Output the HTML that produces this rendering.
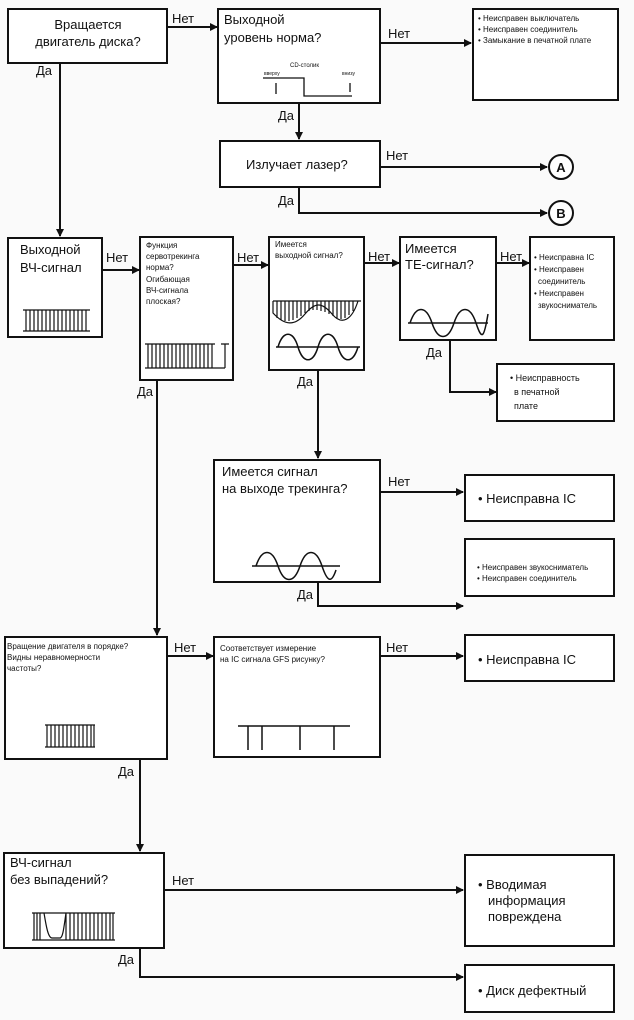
<!DOCTYPE html>
<html><head><meta charset="utf-8"><style>
html,body{margin:0;padding:0;background:#fafafa}
svg{display:block}
text{font-family:"Liberation Sans",sans-serif;fill:#111}
.b{fill:#fff;stroke:#111;stroke-width:2}
.l{fill:none;stroke:#111;stroke-width:2}
.t{stroke:#111;stroke-width:1.2;fill:none}
.s{font-size:8px}
.m{font-size:13px}
</style></head><body>
<svg width="634" height="1020" viewBox="0 0 634 1020" xmlns="http://www.w3.org/2000/svg">
<defs>
<marker id="a" markerWidth="8" markerHeight="8" refX="7" refY="4" orient="auto" markerUnits="userSpaceOnUse"><path d="M0,0 L8,4 L0,8 z" fill="#111"/></marker>
</defs>
<rect class="b" x="8" y="9" width="159" height="54"/>
<text class="m" x="88" y="29" text-anchor="middle">Вращается</text>
<text class="m" x="88" y="46" text-anchor="middle">двигатель диска?</text>

<rect class="b" x="218" y="9" width="162" height="94"/>
<text class="m" x="224" y="24">Выходной</text>
<text class="m" x="224" y="42">уровень норма?</text>
<text x="290" y="67" style="font-size:6px">CD-столик</text>
<text x="264" y="75" style="font-size:5px">вверху</text>
<text x="342" y="75" style="font-size:5px">внизу</text>
<path class="l" style="stroke-width:1.3" d="M263,78 H304 V96 H352"/>
<path class="l" style="stroke-width:1.3" d="M276,83 V94 M350,83 V92"/>

<rect class="b" x="473" y="9" width="145" height="91"/>
<text class="s" x="478" y="21">• Неисправен выключатель</text>
<text class="s" x="478" y="32">• Неисправен соединитель</text>
<text class="s" x="478" y="43">• Замыкание в печатной плате</text>

<rect class="b" x="220" y="141" width="160" height="46"/>
<text class="m" x="246" y="169">Излучает лазер?</text>
<circle class="b" cx="561" cy="167" r="12"/><text x="561" y="172" text-anchor="middle" font-size="13" font-weight="bold">A</text>
<circle class="b" cx="561" cy="213" r="12"/><text x="561" y="218" text-anchor="middle" font-size="13" font-weight="bold">B</text>

<rect class="b" x="8" y="238" width="94" height="99"/>
<text class="m" x="20" y="254">Выходной</text>
<text class="m" x="20" y="272">ВЧ-сигнал</text>
<g class="t"><path d="M23,310 H90 M23,331 H90 M26,310 V331 M30,310 V331 M34,310 V331 M38,310 V331 M42,310 V331 M46,310 V331 M50,310 V331 M54,310 V331 M58,310 V331 M62,310 V331 M66,310 V331 M70,310 V331 M74,310 V331 M78,310 V331 M82,310 V331 M86,310 V331"/></g>

<rect class="b" x="140" y="237" width="93" height="143"/>
<text class="s" x="146" y="248">Функция</text>
<text class="s" x="146" y="259">сервотрекинга</text>
<text class="s" x="146" y="270">норма?</text>
<text class="s" x="146" y="282">Огибающая</text>
<text class="s" x="146" y="293">ВЧ-сигнала</text>
<text class="s" x="146" y="304">плоская?</text>
<g class="t"><path d="M145,344 H215 M145,368 H225 M148,344 V368 M152,344 V368 M156,344 V368 M160,344 V368 M164,344 V368 M168,344 V368 M172,344 V368 M176,344 V368 M180,344 V368 M184,344 V368 M188,344 V368 M192,344 V368 M196,344 V368 M200,344 V368 M204,344 V368 M208,344 V368 M212,344 V368 M225,344 V368 M221,344 H229"/></g>

<rect class="b" x="269" y="237" width="95" height="133"/>
<text class="s" x="275" y="247">Имеется</text>
<text class="s" x="275" y="258">выходной сигнал?</text>
<path class="l" style="stroke-width:1.3" d="M273,301 H361"/>
<path class="l" style="stroke-width:1.2" d="M273,301 V313 C285,326 295,326 305,314 C315,302 322,302 332,314 C342,326 352,320 358,301"/>
<g class="t"><path d="M277,301 V318 M281,301 V320 M285,301 V321 M289,301 V321 M293,301 V320 M297,301 V318 M301,301 V316 M305,301 V313 M309,301 V311 M313,301 V310 M317,301 V310 M321,301 V311 M325,301 V312 M329,301 V314 M333,301 V316 M337,301 V318 M341,301 V319 M345,301 V318 M349,301 V315 M353,301 V311"/></g>
<path class="l" style="stroke-width:1.5" d="M276,347 H360 M278,347 C283,330 293,330 298,347 S313,364 318,347 S333,330 338,347 S353,364 358,347"/>

<rect class="b" x="400" y="237" width="96" height="103"/>
<text class="m" x="405" y="253">Имеется</text>
<text class="m" x="405" y="269">ТЕ-сигнал?</text>
<path class="l" style="stroke-width:1.5" d="M408,323 H488 M410,323 C416,305 426,305 432,323 S448,341 454,323 S470,305 476,323 S484,338 488,314"/>

<rect class="b" x="530" y="237" width="84" height="103"/>
<text class="s" x="534" y="260">• Неисправна IC</text>
<text class="s" x="534" y="272">• Неисправен</text>
<text class="s" x="538" y="284">соединитель</text>
<text class="s" x="534" y="296">• Неисправен</text>
<text class="s" x="538" y="308">звукосниматель</text>

<rect class="b" x="497" y="364" width="117" height="57"/>
<text x="510" y="381" style="font-size:9px">• Неисправность</text>
<text x="514" y="395" style="font-size:9px">в печатной</text>
<text x="514" y="409" style="font-size:9px">плате</text>

<rect class="b" x="214" y="460" width="166" height="122"/>
<text class="m" x="222" y="476">Имеется сигнал</text>
<text class="m" x="222" y="493">на выходе трекинга?</text>
<path class="l" style="stroke-width:1.5" d="M252,566 H340 M256,566 C262,548 272,548 278,566 S294,584 300,566 S316,548 322,566 S332,582 336,570"/>

<rect class="b" x="465" y="475" width="149" height="46"/>
<text x="478" y="503" font-size="13">• Неисправна IC</text>
<rect class="b" x="465" y="539" width="149" height="57"/>
<text class="s" x="477" y="570">• Неисправен звукосниматель</text>
<text class="s" x="477" y="581">• Неисправен соединитель</text>

<rect class="b" x="5" y="637" width="162" height="122"/>
<text class="s" x="7" y="649">Вращение двигателя в порядке?</text>
<text class="s" x="7" y="660">Видны неравномерности</text>
<text class="s" x="7" y="671">частоты?</text>
<g class="t"><path d="M45,725 H95 M45,747 H95 M47,725 V747 M51,725 V747 M55,725 V747 M59,725 V747 M63,725 V747 M67,725 V747 M71,725 V747 M75,725 V747 M79,725 V747 M83,725 V747 M87,725 V747 M91,725 V747 M94,725 V747"/></g>

<rect class="b" x="214" y="637" width="166" height="120"/>
<text class="s" x="220" y="651">Соответствует измерение</text>
<text class="s" x="220" y="662">на IC сигнала GFS рисунку?</text>
<path class="l" style="stroke-width:1.5" d="M238,726 H350 M248,726 V750 M262,726 V750 M300,726 V750 M334,726 V750"/>

<rect class="b" x="465" y="635" width="149" height="46"/>
<text x="478" y="664" font-size="13">• Неисправна IC</text>

<rect class="b" x="4" y="853" width="160" height="95"/>
<text class="m" x="10" y="867">ВЧ-сигнал</text>
<text class="m" x="10" y="884">без выпадений?</text>
<g class="t"><path d="M32,913 H115 M32,940 H115 M34,913 V940 M37,913 V940 M40,913 V940 M44,913 C46,925 48,938 52,938 H60 C63,938 64,926 66,913 M66,913 V940 M70,913 V940 M74,913 V940 M78,913 V940 M82,913 V940 M86,913 V940 M90,913 V940 M94,913 V940 M98,913 V940 M102,913 V940 M106,913 V940 M110,913 V940 M113,913 V940"/></g>

<rect class="b" x="465" y="855" width="149" height="91"/>
<text x="478" y="889" font-size="13">• Вводимая</text>
<text x="488" y="905" font-size="13">информация</text>
<text x="488" y="921" font-size="13">повреждена</text>
<rect class="b" x="465" y="965" width="149" height="47"/>
<text x="478" y="995" font-size="13">• Диск дефектный</text>

<g class="l" style="marker-end:url(#a)">
<path d="M167,27 H217"/>
<path d="M380,43 H471"/>
<path d="M299,103 V139"/>
<path d="M380,167 H547"/>
<path d="M299,187 V213 H547"/>
<path d="M60,63 V236"/>
<path d="M102,270 H139"/>
<path d="M233,265 H268"/>
<path d="M364,263 H399"/>
<path d="M496,263 H529"/>
<path d="M450,340 V392 H496"/>
<path d="M318,370 V458"/>
<path d="M380,492 H463"/>
<path d="M318,582 V606 H463"/>
<path d="M157,380 V635"/>
<path d="M167,656 H213"/>
<path d="M380,656 H463"/>
<path d="M140,759 V851"/>
<path d="M164,890 H463"/>
<path d="M140,948 V977 H463"/>
</g>
<g font-size="13">
<text x="172" y="23">Нет</text>
<text x="36" y="75">Да</text>
<text x="388" y="38">Нет</text>
<text x="278" y="120">Да</text>
<text x="386" y="160">Нет</text>
<text x="278" y="205">Да</text>
<text x="106" y="262">Нет</text>
<text x="237" y="262">Нет</text>
<text x="368" y="261">Нет</text>
<text x="500" y="261">Нет</text>
<text x="426" y="357">Да</text>
<text x="137" y="396">Да</text>
<text x="297" y="386">Да</text>
<text x="388" y="486">Нет</text>
<text x="297" y="599">Да</text>
<text x="174" y="652">Нет</text>
<text x="386" y="652">Нет</text>
<text x="118" y="776">Да</text>
<text x="172" y="885">Нет</text>
<text x="118" y="964">Да</text>
</g>
</svg>
</body></html>
